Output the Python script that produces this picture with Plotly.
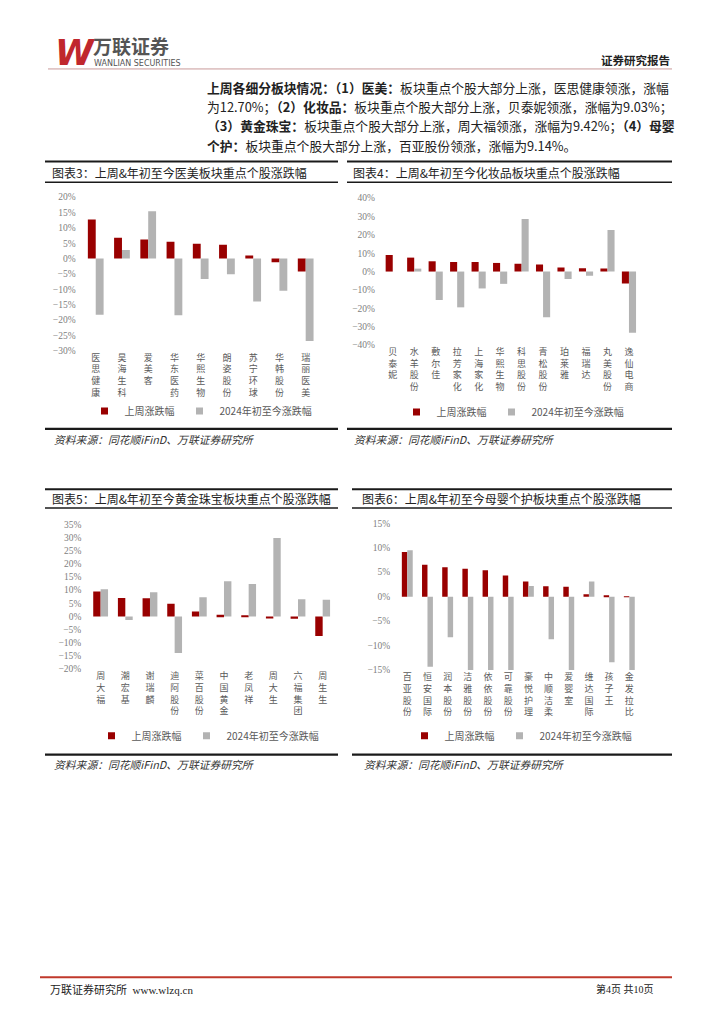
import plotly.graph_objects as go

W, H = 724, 1024
OFF = 8            # default page body margin of the html page
FW, FH = W - 2 * OFF, H - 2 * OFF
RED = "#990000"
GRAY = "#b3b3b3"
CJK = "Noto Sans CJK SC"
SERIF = "Liberation Serif"

# ---------------- data ----------------
legend_names = ["上周涨跌幅", "2024年初至今涨跌幅"]

c3_names = ["医思健康", "昊海生科", "爱美客", "华东医药", "华熙生物", "朗姿股份", "苏宁环球", "华韩股份", "瑞丽医美"]
c3_week = [12.70, 6.8, 6.2, 5.5, 4.8, 4.5, 1.0, -1.2, -4.2]
c3_ytd = [-18.3, 2.8, 15.4, -18.5, -6.7, -5.1, -14.0, -10.5, -26.9]

c4_names = ["贝泰妮", "水羊股份", "敷尔佳", "拉芳家化", "上海家化", "华熙生物", "科思股份", "青松股份", "珀莱雅", "福瑞达", "丸美股份", "逸仙电商"]
c4_week = [9.03, 7.6, 5.6, 5.2, 5.2, 4.7, 4.2, 3.8, 2.2, 1.8, 1.6, -6.5]
c4_ytd = [0.0, 1.6, -15.5, -19.5, -9.2, -6.7, 28.6, -24.9, -4.1, -2.3, 22.7, -33.3]

c5_names = ["周大福", "潮宏基", "谢瑞麟", "迪阿股份", "菜百股份", "中国黄金", "老凤祥", "周大生", "六福集团", "周生生"]
c5_week = [9.42, 7.0, 6.9, 4.8, 1.9, 0.6, 0.3, -0.8, -0.9, -7.4]
c5_ytd = [10.3, -1.4, 9.2, -13.9, 7.3, 13.3, 12.3, 29.8, 6.5, 6.3]

c6_names = ["百亚股份", "恒安国际", "润本股份", "洁雅股份", "依依股份", "可靠股份", "豪悦护理", "中顺洁柔", "爱婴室", "维达国际", "孩子王", "金发拉比"]
c6_week = [9.14, 6.5, 6.0, 5.7, 5.4, 4.3, 3.1, 2.1, 2.0, 0.5, 0.2, 0.05]
c6_ytd = [9.45, -14.3, -8.3, -15.3, -15.3, -15.2, 2.15, -8.7, -15.3, 3.1, -13.4, -15.3]

titles = [
    "图表3：上周&年初至今医美板块重点个股涨跌幅",
    "图表4：上周&年初至今化妆品板块重点个股涨跌幅",
    "图表5：上周&年初至今黄金珠宝板块重点个股涨跌幅",
    "图表6：上周&年初至今母婴个护板块重点个股涨跌幅",
]
source_text = "资料来源：同花顺iFinD、万联证券研究所"

para_lines = [
    "<b>上周各细分板块情况：（1）医美：</b>板块重点个股大部分上涨，医思健康领涨，涨幅",
    "为12.70%；<b>（2）化妆品：</b>板块重点个股大部分上涨，贝泰妮领涨，涨幅为9.03%；",
    "<b>（3）黄金珠宝：</b>板块重点个股大部分上涨，周大福领涨，涨幅为9.42%；<b>（4）母婴</b>",
    "<b>个护：</b>板块重点个股大部分上涨，百亚股份领涨，涨幅为9.14%。",
]

# ---------------- helpers (page pixel -> paper) ----------------
def px(x):
    return (x - OFF) / FW

def py(y):
    return 1 - (y - OFF) / FH

charts = [
    dict(n=c3_names, a=c3_week, b=c3_ytd, xd=(82.6, 318.8), yd=(194, 349), yr=[-30, 20], dt=5, w=0.30, lg=(201, 410)),
    dict(n=c4_names, a=c4_week, b=c4_ytd, xd=(382, 639.7), yd=(195, 343.3), yr=[-40, 40], dt=10, w=0.33, lg=(513, 411)),
    dict(n=c5_names, a=c5_week, b=c5_ytd, xd=(88.3, 335), yd=(524.3, 670.7), yr=[-20, 35], dt=5, w=0.30, lg=(208, 738)),
    dict(n=c6_names, a=c6_week, b=c6_ytd, xd=(397.2, 639.4), yd=(523.3, 671.7), yr=[-15, 15], dt=5, w=0.27, lg=(521, 738)),
]

fig = go.Figure()
layout = dict(
    width=FW, height=FH, margin=dict(l=0, r=0, t=0, b=0),
    paper_bgcolor="white", plot_bgcolor="white",
    showlegend=True, barmode="overlay",
)
annotations = []
shapes = []

for i, c in enumerate(charts):
    k = "" if i == 0 else str(i + 1)
    xa, ya = "x" + k, "y" + k
    lgname = "legend" + k
    labels = ["<br>".join(list(s)) for s in c["n"]]
    fig.add_trace(go.Bar(x=labels, y=c["a"], name=legend_names[0], marker_color=RED,
                         width=c["w"], offset=-c["w"], xaxis=xa, yaxis=ya, legend=lgname,
                         marker_line_width=0, showlegend=False))
    fig.add_trace(go.Bar(x=labels, y=c["b"], name=legend_names[1], marker_color=GRAY,
                         width=c["w"], offset=0, xaxis=xa, yaxis=ya, legend=lgname,
                         marker_line_width=0, showlegend=False))
    # legend entries (square markers like the original legend keys)
    for nm, col in zip(legend_names, (RED, GRAY)):
        fig.add_trace(go.Scatter(x=[None], y=[None], mode="markers", name=nm,
                                 marker=dict(symbol="square", size=7, color=col),
                                 xaxis=xa, yaxis=ya, legend=lgname))
    layout["xaxis" + k] = dict(
        domain=[px(c["xd"][0]), px(c["xd"][1])], anchor=ya, showgrid=False,
        showline=False, zeroline=False, ticks="", type="category",
        tickfont=dict(family=CJK, size=9, color="#5a5a5a"), tickangle=0,
        fixedrange=True,
    )
    layout["yaxis" + k] = dict(
        domain=[py(c["yd"][1]), py(c["yd"][0])], anchor=xa, range=c["yr"], dtick=c["dt"],
        tick0=0, ticksuffix="%", showgrid=False, showline=False, zeroline=False, ticks="",
        tickfont=dict(family=SERIF, size=9.5, color="#808080"), ticklabelstandoff=6,
        fixedrange=True,
    )
    layout[lgname] = dict(
        orientation="h", x=px(c["lg"][0]), y=py(c["lg"][1]), xanchor="center", yanchor="middle",
        font=dict(family=CJK, size=10, color="#595959"), bgcolor="rgba(0,0,0,0)",
        itemwidth=30, tracegroupgap=0,
    )

# ---------- chart frames: title lines, titles, source lines, source texts ----------
frames = [
    dict(x0=45, x1=338, top=158, bot=179, tx=50, ty=169.5, sl=428, sy=438, sx=52),
    dict(x0=347, x1=672, top=158, bot=179, tx=351, ty=169.5, sl=428, sy=438, sx=352),
    dict(x0=45, x1=338, top=489, bot=508, tx=50, ty=498.5, sl=757, sy=767, sx=52),
    dict(x0=352, x1=672, top=489, bot=508, tx=360, ty=498.5, sl=757, sy=767, sx=362),
]
for f, t in zip(frames, titles):
    for yy, wdt in ((f["top"], 2.2), (f["bot"], 1.6), (f["sl"], 2.2)):
        shapes.append(dict(type="line", xref="paper", yref="paper", x0=px(f["x0"]), x1=px(f["x1"]),
                           y0=py(yy), y1=py(yy), line=dict(color="#1a1a1a", width=wdt)))
    annotations.append(dict(text=t, x=px(f["tx"]), y=py(f["ty"]), xref="paper", yref="paper",
                            xanchor="left", yanchor="middle", showarrow=False,
                            font=dict(family=CJK, size=12, color="#222222")))
    annotations.append(dict(text="<i>" + source_text + "</i>", x=px(f["sx"]), y=py(f["sy"]),
                            xref="paper", yref="paper", xanchor="left", yanchor="middle",
                            showarrow=False, font=dict(family=CJK, size=10.8, color="#333333")))

# ---------- paragraph ----------
for j, line in enumerate(para_lines):
    annotations.append(dict(text=line, x=px(205), y=py(83 + j * 19.5), xref="paper", yref="paper",
                            xanchor="left", yanchor="middle", showarrow=False,
                            font=dict(family=CJK, size=12.8, color="#222222")))

# ---------- header ----------
annotations.append(dict(text="<b><i>W</i></b>", x=px(53), y=py(48), xref="paper", yref="paper",
                        xanchor="left", yanchor="middle", showarrow=False,
                        font=dict(family="DejaVu Sans", size=35, color="#c0272d")))
annotations.append(dict(text="<b>万联证券</b>", x=px(91), y=py(41), xref="paper", yref="paper",
                        xanchor="left", yanchor="middle", showarrow=False,
                        font=dict(family=CJK, size=19, color="#555555")))
annotations.append(dict(text="WANLIAN SECURITIES", x=px(92), y=py(59.5), xref="paper", yref="paper",
                        xanchor="left", yanchor="middle", showarrow=False,
                        font=dict(family="DejaVu Sans", size=8, color="#555555")))
annotations.append(dict(text="<b>证券研究报告</b>", x=px(672), y=py(55), xref="paper", yref="paper",
                        xanchor="right", yanchor="middle", showarrow=False,
                        font=dict(family=CJK, size=11.5, color="#222222")))
shapes.append(dict(type="line", xref="paper", yref="paper", x0=px(48), x1=px(672),
                   y0=py(64.5), y1=py(64.5), line=dict(color="#c89a9a", width=1)))

# ---------- footer ----------
shapes.append(dict(type="line", xref="paper", yref="paper", x0=px(40), x1=px(672),
                   y0=py(982), y1=py(982), line=dict(color="#c0392b", width=2)))
annotations.append(dict(text="万联证券研究所  www.wlzq.cn", x=px(48), y=py(994), xref="paper", yref="paper",
                        xanchor="left", yanchor="middle", showarrow=False,
                        font=dict(family=SERIF + ", " + CJK, size=11, color="#222222")))
annotations.append(dict(text="第4页 共10页", x=px(656), y=py(994), xref="paper", yref="paper",
                        xanchor="right", yanchor="middle", showarrow=False,
                        font=dict(family=SERIF + ", " + CJK, size=10, color="#222222")))

layout["annotations"] = annotations
layout["shapes"] = shapes
fig.update_layout(**layout)
fig.write_html("out.html")
